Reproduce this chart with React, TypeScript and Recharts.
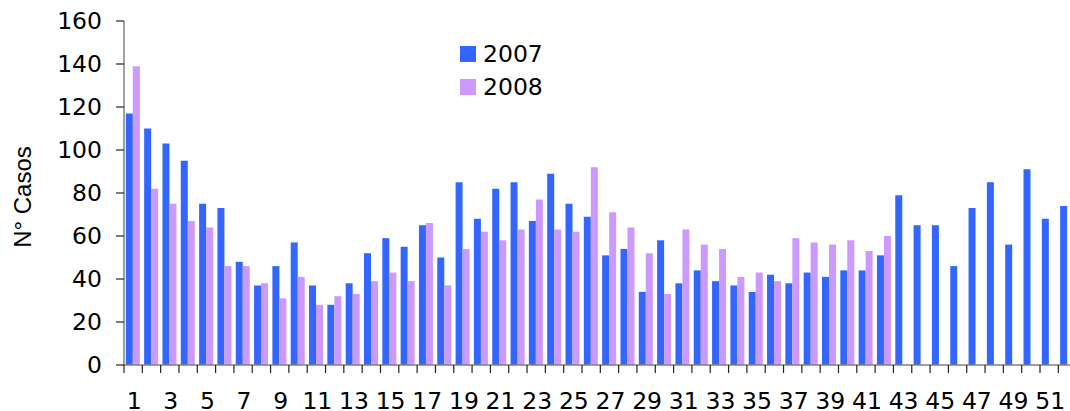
import { BarChart, Bar, XAxis, YAxis } from 'recharts'

const weeks = Array.from({ length: 52 }, (_, i) => String(i + 1))

const casos2007 = [
  117, 110, 103, 95, 75, 73, 48, 37, 46, 57, 37, 28, 38,
  52, 59, 55, 65, 50, 85, 68, 82, 85, 67, 89, 75, 69,
  51, 54, 34, 58, 38, 44, 39, 37, 34, 42, 38, 43, 41,
  44, 44, 51, 79, 65, 65, 46, 73, 85, 56, 91, 68, 74,
]

const casos2008: (number | null)[] = [
  139, 82, 75, 67, 64, 46, 46, 38, 31, 41, 28, 32, 33,
  39, 43, 39, 66, 37, 54, 62, 58, 63, 77, 63, 62, 92,
  71, 64, 52, 33, 63, 56, 54, 41, 43, 39, 59, 57, 56,
  58, 53, 60, null, null, null, null, null, null, null, null, null, null,
]

const yTicks = [0, 20, 40, 60, 80, 100, 120, 140, 160]

const series = [
  { key: 'y2007', name: '2007', color: '#3366FF' },
  { key: 'y2008', name: '2008', color: '#CC99FF' },
]

const data = weeks.map((w, i) => ({ week: w, y2007: casos2007[i], y2008: casos2008[i] }))

const CHART_W = 1100
const PLOT_LEFT = 124
const BAND = 18.32
const PLOT_W = BAND * 52
const FONT = "'DejaVu Sans', Verdana, sans-serif"

function WeekTick(props: any) {
  const { x, y, index } = props
  const left = x - BAND / 2
  return (
    <g>
      <line x1={left} y1={y} x2={left} y2={y + 8} stroke="#222" strokeWidth={1.2} />
      {index === weeks.length - 1 && (
        <line x1={x + BAND / 2} y1={y} x2={x + BAND / 2} y2={y + 8} stroke="#222" strokeWidth={1.2} />
      )}
      {index % 2 === 0 && (
        <text x={x + 1} y={y + 44} textAnchor="middle" fontSize={23.5} fontFamily={FONT} fill="#000">
          {weeks[index]}
        </text>
      )}
    </g>
  )
}

function LegendBox() {
  return (
    <div style={{ position: 'absolute', left: 460, top: 37, fontFamily: FONT, fontSize: 23.5, color: '#000' }}>
      {series.map((s) => (
        <div key={s.key} style={{ display: 'flex', alignItems: 'center', height: 33.5 }}>
          <span style={{ width: 16, height: 16, background: s.color, marginRight: 7, display: 'inline-block' }} />
          <span>{s.name}</span>
        </div>
      ))}
    </div>
  )
}

export default function App() {
  return (
    <div style={{ position: 'absolute', left: 0, top: 0, width: 1070, height: 411, overflow: 'hidden', background: '#fff' }}>
      <BarChart
        width={CHART_W}
        height={411}
        data={data}
        margin={{ top: 21, right: CHART_W - PLOT_LEFT - PLOT_W, bottom: 0, left: 0 }}
        barCategoryGap="10%"
        barGap={0}
      >
        <XAxis
          dataKey="week"
          interval={0}
          height={46}
          tickLine={false}
          tickSize={0}
          tickMargin={0}
          tick={<WeekTick />}
          axisLine={{ stroke: '#808080', strokeWidth: 1.5 }}
        />
        <YAxis
          width={PLOT_LEFT}
          domain={[0, 160]}
          ticks={yTicks}
          interval={0}
          tickSize={8}
          tickMargin={14}
          axisLine={{ stroke: '#808080', strokeWidth: 1.5 }}
          tickLine={{ stroke: '#222', strokeWidth: 1.2 }}
          tick={{ fontSize: 23.5, fontFamily: FONT, fill: '#000' }}
          label={{
            value: 'N° Casos',
            angle: -90,
            position: 'insideLeft',
            dx: 17,
            dy: 4,
            style: { fontSize: 24, fontFamily: "'Liberation Sans', Arial, sans-serif", fill: '#000', textAnchor: 'middle' },
          }}
        />
        {series.map((s) => (
          <Bar key={s.key} dataKey={s.key} name={s.name} fill={s.color} isAnimationActive={false} />
        ))}
      </BarChart>
      <LegendBox />
    </div>
  )
}
